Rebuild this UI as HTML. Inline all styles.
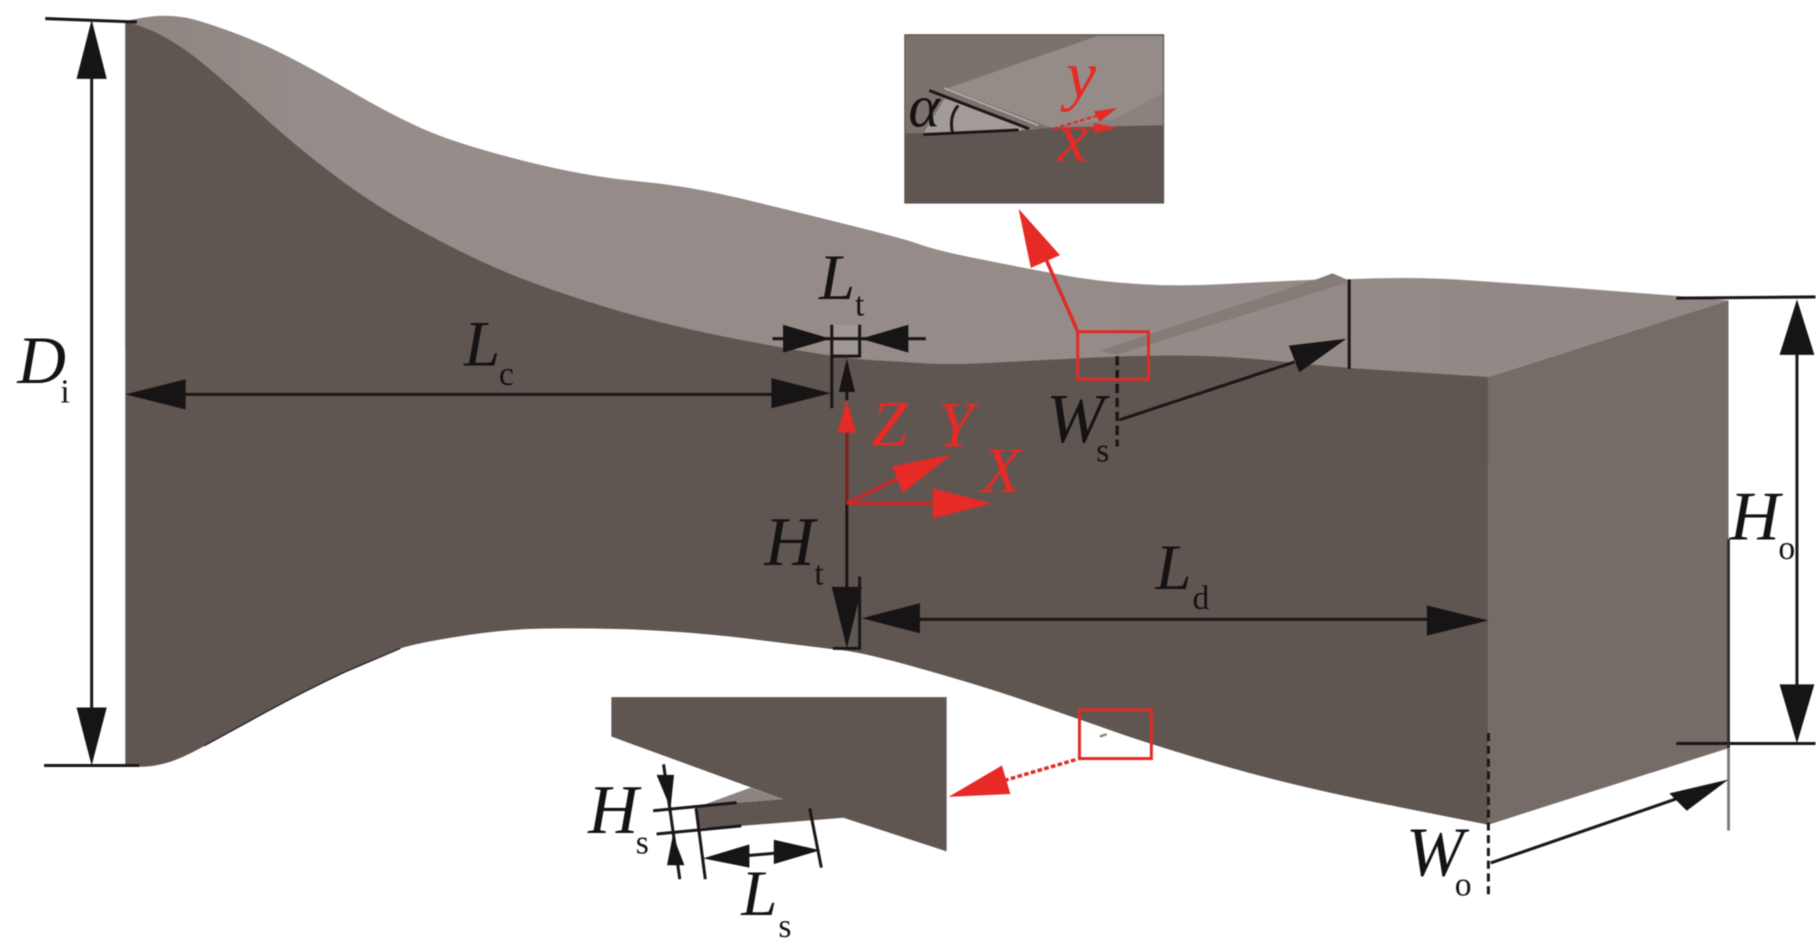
<!DOCTYPE html>
<html><head><meta charset="utf-8"><style>
html,body{margin:0;padding:0;background:#fff;width:1819px;height:943px;overflow:hidden}
svg{display:block;filter:blur(.4px)}
text{font-family:"Liberation Serif",serif;fill:#141212}
.i{font-style:italic;font-size:56px}
.w{font-style:italic;font-size:60px}
.s{font-size:29px}
.r{fill:#e62a25;font-style:italic;font-size:56px}
.k{stroke:#1a1717;fill:none;stroke-width:2.6}
.h{fill:#161414}
.rh{fill:#e62a25}
</style></head><body>
<svg xmlns="http://www.w3.org/2000/svg" width="1819" height="943" viewBox="0 0 1568 813" preserveAspectRatio="none">
<defs>
<linearGradient id="t" x1="0" y1="0" x2="1" y2="0"><stop offset="0" stop-color="#8e8581"/><stop offset=".12" stop-color="#968d8a"/><stop offset=".6" stop-color="#958c89"/><stop offset="1" stop-color="#918885"/></linearGradient>
</defs>
<!-- top surface -->
<path fill="url(#t)" d="M108,18 L119,16 Q148,10 174.5,19 Q201,27 231.5,40.5 Q262,55 299.5,77 Q337,99 365.5,111.5 Q394,124 449,138 Q504,152 548,156 Q592,160 636,170.5 Q680,181 728,193 Q776,205 791,210 Q806,215.6 841.5,222.8 Q877,230 912.5,236.5 Q948,243 983,245 Q1018,247 1054,245 Q1090,243 1137,241 L1148.6,235.7 L1160.5,240.8 Q1217,238 1271.5,242 Q1326,245.7 1385,250.5 L1444,255 L1490,259 L1283,325 L1283,400 L700,400 L108,300 Z"/>
<!-- front -->
<path fill="#5f5651" d="M108,18 L130,26 Q152,36 174,54 Q196,72 222.5,96.5 Q249,121 284,148 Q319,175 361,198 Q403,221 438,235.5 Q473,250 528,266.5 Q583,283 649,295 Q715,307.5 745.5,310 Q776,312 798,313.3 Q820,314.7 860,312.5 Q900,310.4 947.5,308 Q995,306 1030.5,306.7 Q1066,307.5 1113,312.5 Q1160,317.6 1221.5,321 L1283,325 L1283,711 L1199.5,694.5 Q1116,678 1054,660 Q992.5,642 960,630.5 Q927,619 885.5,604.7 Q844,590.5 791,575.7 Q738.5,561 720,560 L656,552 Q592,543.7 532.5,542.3 Q473,541 446.8,542.8 Q420.6,544.6 389.8,549.6 Q359,554.6 345.8,558.8 Q332.6,563 297.3,579.5 Q262,596 229,614 Q196,632 176.3,643 Q156.6,654 143.3,657.8 Q130,661.5 119,661 L108,661 Z"/>
<!-- dark lower contour -->
<path d="M176,643 Q196,632 229,614 Q262,596 297,579.5 L345,559" fill="none" stroke="#2a2523" stroke-width="1.2"/>
<!-- right face -->
<polygon fill="#756b67" points="1283,325 1490,259 1490,645 1283,711"/>
<!-- slot -->
<polygon fill="#857c78" points="948,302 955,300 1137,240 1148.6,235.7 1160.5,241 1160.5,244 962,306"/>
<line x1="1163" y1="241" x2="1163" y2="318" class="k"/>
<!-- Di -->
<line x1="39" y1="16" x2="118" y2="19" class="k" stroke-width="3"/>
<line x1="38" y1="660" x2="120" y2="660" class="k"/>
<line x1="79" y1="60" x2="79" y2="615" class="k"/>
<polygon class="h" points="79,17 92,68 66,68"/>
<polygon class="h" points="79,660 92,610 66,610"/>
<text class="i" x="15" y="330" style="font-size:58px">D</text><text class="s" x="52" y="347">i</text>
<!-- Lc -->
<line x1="150" y1="340" x2="680" y2="340" class="k"/>
<polygon class="h" points="108,340 160,327 160,353"/>
<polygon class="h" points="716,339 665,326 665,352"/>
<text class="i" x="400" y="315">L</text><text class="s" x="430" y="332">c</text>
<!-- Lt -->
<rect x="718" y="280" width="23" height="27" fill="#fff" fill-opacity=".1"/>
<line x1="717" y1="280" x2="717" y2="352" class="k"/>
<path d="M741,280V307H717" class="k"/>
<line x1="666" y1="292" x2="798" y2="292" class="k"/>
<polygon class="h" points="716,292 675,280 675,304"/>
<polygon class="h" points="742,292 783,280 783,304"/>
<text class="i" x="706" y="258">L</text><text class="s" x="737" y="272">t</text>
<!-- Ht -->
<line x1="730" y1="330" x2="730" y2="345" class="k" stroke-width="3"/>
<line x1="730" y1="434" x2="730" y2="520" class="k" stroke-width="3"/>
<line x1="730" y1="373" x2="730" y2="434" stroke="#7d2420" stroke-width="3"/>
<polygon class="h" points="730,309 737,338 723,338"/>
<polygon class="h" points="730,559 743,506 717,506"/>
<path d="M741,497V559H718" class="k"/>
<text class="w" x="659" y="487">H</text><text class="s" x="702" y="504">t</text>
<!-- Ld -->
<line x1="780" y1="534" x2="1240" y2="534" class="k"/>
<polygon class="h" points="743,533 793,520 793,546"/>
<polygon class="h" points="1283,535 1230,522 1230,548"/>
<text class="i" x="996" y="508">L</text><text class="s" x="1028" y="525">d</text>
<!-- XYZ -->
<polygon class="rh" points="730,345 738,373 722,373"/>
<line x1="730" y1="434" x2="810" y2="434" stroke="#c92a25" stroke-width="3"/>
<polygon class="rh" points="855,434 804,421 804,447"/>
<line x1="730" y1="434" x2="775" y2="412" stroke="#c92a25" stroke-width="3"/>
<polygon class="rh" points="820,392 769,402 778,425"/>
<text class="r" x="751" y="384">Z</text>
<text class="r" x="808" y="385">Y</text>
<text class="r" x="846" y="424">X</text>
<!-- Ws -->
<line x1="963" y1="307" x2="963" y2="385" stroke="#1a1717" stroke-width="3" stroke-dasharray="8 4"/>
<line x1="965" y1="362" x2="1116" y2="312" class="k"/>
<polygon class="h" points="1160.5,292 1111,298 1120,321"/>
<text class="w" x="902" y="381">W</text><text class="s" x="945" y="398">s</text>
<!-- red box top -->
<rect x="929" y="286" width="61" height="41" fill="none" stroke="#e02b27" stroke-width="2.6"/>
<line x1="929" y1="286" x2="901" y2="222" stroke="#e02b27" stroke-width="3"/>
<polygon class="rh" points="878,180 888.6,231 913.7,220"/>
<!-- inset top -->
<rect x="780" y="30" width="223" height="145" fill="#7b726d"/>
<polygon fill="#958c88" points="817,76 946,31 1003,31 1003,80 960,103 906,110"/>
<polygon fill="#8b827d" points="906,110 960,103 1003,80 1003,108"/>
<polygon fill="#a39b97" points="815,84 885,110 878,113 796,115"/>
<polygon fill="#5f5651" points="780,115 878,113 906,110 1003,108 1003,175 780,175"/>
<rect x="780" y="30" width="223" height="145" fill="none" stroke="#5a514d" stroke-width="1"/>
<line x1="801" y1="78" x2="887" y2="111" stroke="#1a1717" stroke-width="2.5"/>
<line x1="814" y1="76" x2="895" y2="108" stroke="#b5aeaa" stroke-width="1.5"/>
<line x1="796" y1="116" x2="878" y2="112" stroke="#1a1717" stroke-width="2.5"/>
<path d="M826,91Q818,100 821,114" fill="none" stroke="#1a1717" stroke-width="2.5"/>
<text class="i" x="783" y="109" style="font-size:52px">α</text>
<line x1="908" y1="111" x2="945" y2="100" stroke="#e62a25" stroke-width="2" stroke-dasharray="4 2"/>
<polygon class="rh" points="963,93 943,96 948,105"/>
<line x1="908" y1="111" x2="945" y2="110" stroke="#e62a25" stroke-width="2" stroke-dasharray="4 2"/>
<polygon class="rh" points="963,110 943,106 943,115"/>
<text class="r" x="919" y="84" style="font-size:58px">y</text>
<text class="r" x="912" y="139" style="font-size:58px">x</text>
<!-- Ho -->
<line x1="1445" y1="257" x2="1565" y2="256" class="k" stroke-width="2.6"/>
<line x1="1445" y1="641" x2="1565" y2="641" class="k" stroke-width="2.6"/>
<line x1="1549" y1="300" x2="1549" y2="595" class="k"/>
<polygon class="h" points="1549,258 1564,306 1534,306"/>
<polygon class="h" points="1549,641 1564,590 1534,590"/>
<line x1="1490" y1="465" x2="1490" y2="645" stroke="#2f2a28" stroke-width="2.4"/>
<line x1="1490" y1="645" x2="1490" y2="716" stroke="#7d7572" stroke-width="2.4"/>
<text class="w" x="1491" y="465">H</text><text class="s" x="1533" y="482">o</text>
<!-- Wo -->
<line x1="1283" y1="632" x2="1283" y2="775" stroke="#1a1717" stroke-width="2.6" stroke-dasharray="7 4"/>
<line x1="1285" y1="744" x2="1450" y2="687" class="k"/>
<polygon class="h" points="1490,672 1439,684 1454,699"/>
<text class="w" x="1212" y="755">W</text><text class="s" x="1254" y="772">o</text>
<!-- red box bottom -->
<rect x="930.5" y="612" width="62" height="42" fill="none" stroke="#e02b27" stroke-width="2.6"/>
<line x1="927" y1="655" x2="867" y2="672.5" stroke="#e02b27" stroke-width="3" stroke-dasharray="4 2"/>
<polygon class="rh" points="817.6,687 863.7,660 871,684.5"/>
<line x1="948" y1="635" x2="954" y2="633" stroke="#8f8a4a" stroke-width="2"/>
<!-- lower inset -->
<polygon fill="#5f5651" points="527,601 816,601 816,734 727,705 639,712 602,714 600,695 635,692 675,689 527,635"/>
<polygon fill="#8d8480" points="606,694 647,679 675,689 635,692"/>
<line x1="563" y1="699" x2="635" y2="692" class="k"/>
<line x1="566" y1="719" x2="639" y2="712" class="k"/>
<line x1="572" y1="659" x2="586" y2="758" class="k"/>
<polygon class="h" points="578,697 566,668 581,668"/>
<polygon class="h" points="580,720 575,746 590,746"/>
<line x1="600" y1="697" x2="608" y2="758" class="k"/>
<line x1="698" y1="697" x2="708" y2="748" class="k"/>
<line x1="640" y1="738" x2="675" y2="735" class="k"/>
<polygon class="h" points="606,740 646,728 646,748"/>
<polygon class="h" points="707,733 667,724 667,745"/>
<text class="w" x="507" y="718">H</text><text class="s" x="548" y="736">s</text>
<text class="i" x="639" y="789">L</text><text class="s" x="671" y="808">s</text>
</svg>
</body></html>
